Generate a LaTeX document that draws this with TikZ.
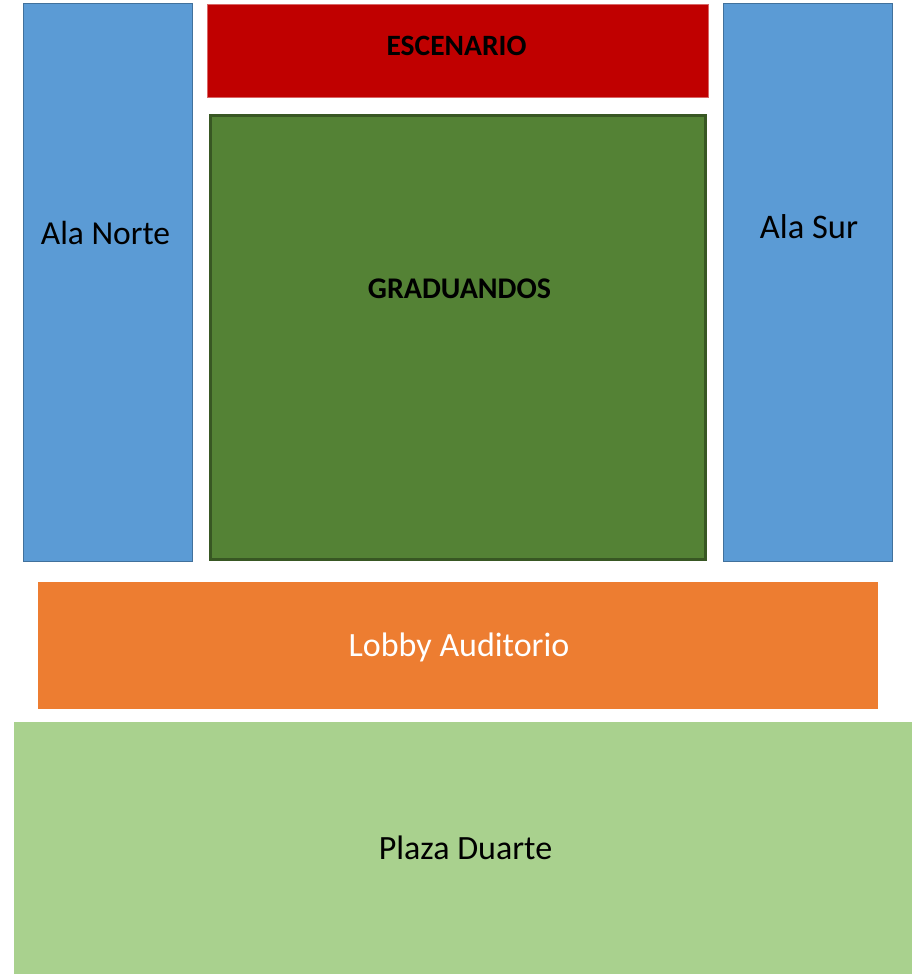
\documentclass[tikz,border=0pt]{standalone}
\usepackage{fontspec}
\setmainfont{Carlito}
\definecolor{wingblue}{HTML}{5B9BD5}
\definecolor{wingedge}{HTML}{41719C}
\definecolor{stagered}{HTML}{C00000}
\definecolor{gradgreen}{HTML}{548235}
\definecolor{gradedge}{HTML}{385723}
\definecolor{lobbyorange}{HTML}{ED7D31}
\definecolor{plazagreen}{HTML}{A9D18E}
\tikzset{
  zone/.style={rectangle, anchor=north west, inner sep=0pt, outer sep=0pt},
  lbl/.style={inner sep=0pt, anchor=base},
}
\begin{document}
\begin{tikzpicture}[x=1pt,y=-1pt]
\useasboundingbox[fill=white] (0,0) rectangle (912,974);
% Ala Norte
\node[zone, fill=wingblue, draw=wingedge, line width=1pt, minimum width=169pt, minimum height=558pt] (norte) at (23.5,3.5) {};
% Ala Sur
\node[zone, fill=wingblue, draw=wingedge, line width=1pt, minimum width=169pt, minimum height=558pt] (sur) at (723.5,3.5) {};
% Escenario
\node[zone, fill=stagered, draw=stagered!60!white, line width=0.6pt, minimum width=501pt, minimum height=93pt] (escenario) at (207,4) {};
% Graduandos
\node[zone, fill=gradgreen, draw=gradedge, line width=3pt, minimum width=495pt, minimum height=444pt] (grad) at (210.5,115.5) {};
% Lobby
\node[zone, fill=lobbyorange, minimum width=840pt, minimum height=127pt] (lobby) at (38,582) {};
% Plaza
\node[zone, fill=plazagreen, minimum width=898pt, minimum height=252pt] (plaza) at (14,722) {};
% labels
\node[lbl, font=\fontsize{33.5}{33.5}\selectfont] (tnorte) at (105.5,244) {Ala Norte};
\node[lbl, font=\fontsize{34.5}{34.5}\selectfont] (tsur) at (809,238) {Ala Sur};
\node[lbl, font=\bfseries\fontsize{30}{30}\selectfont] (tgrad) at (459.5,298.5) {GRADUANDOS};
\node[lbl, font=\bfseries\fontsize{29.5}{29.5}\selectfont] (tesc) at (456.5,56) {ESCENARIO};
\node[lbl, text=white, font=\fontsize{34}{34}\selectfont] (tlobby) at (459,656) {Lobby Auditorio};
\node[lbl, font=\fontsize{34}{34}\selectfont] (tplaza) at (465.5,859) {Plaza Duarte};
\end{tikzpicture}
\end{document}
